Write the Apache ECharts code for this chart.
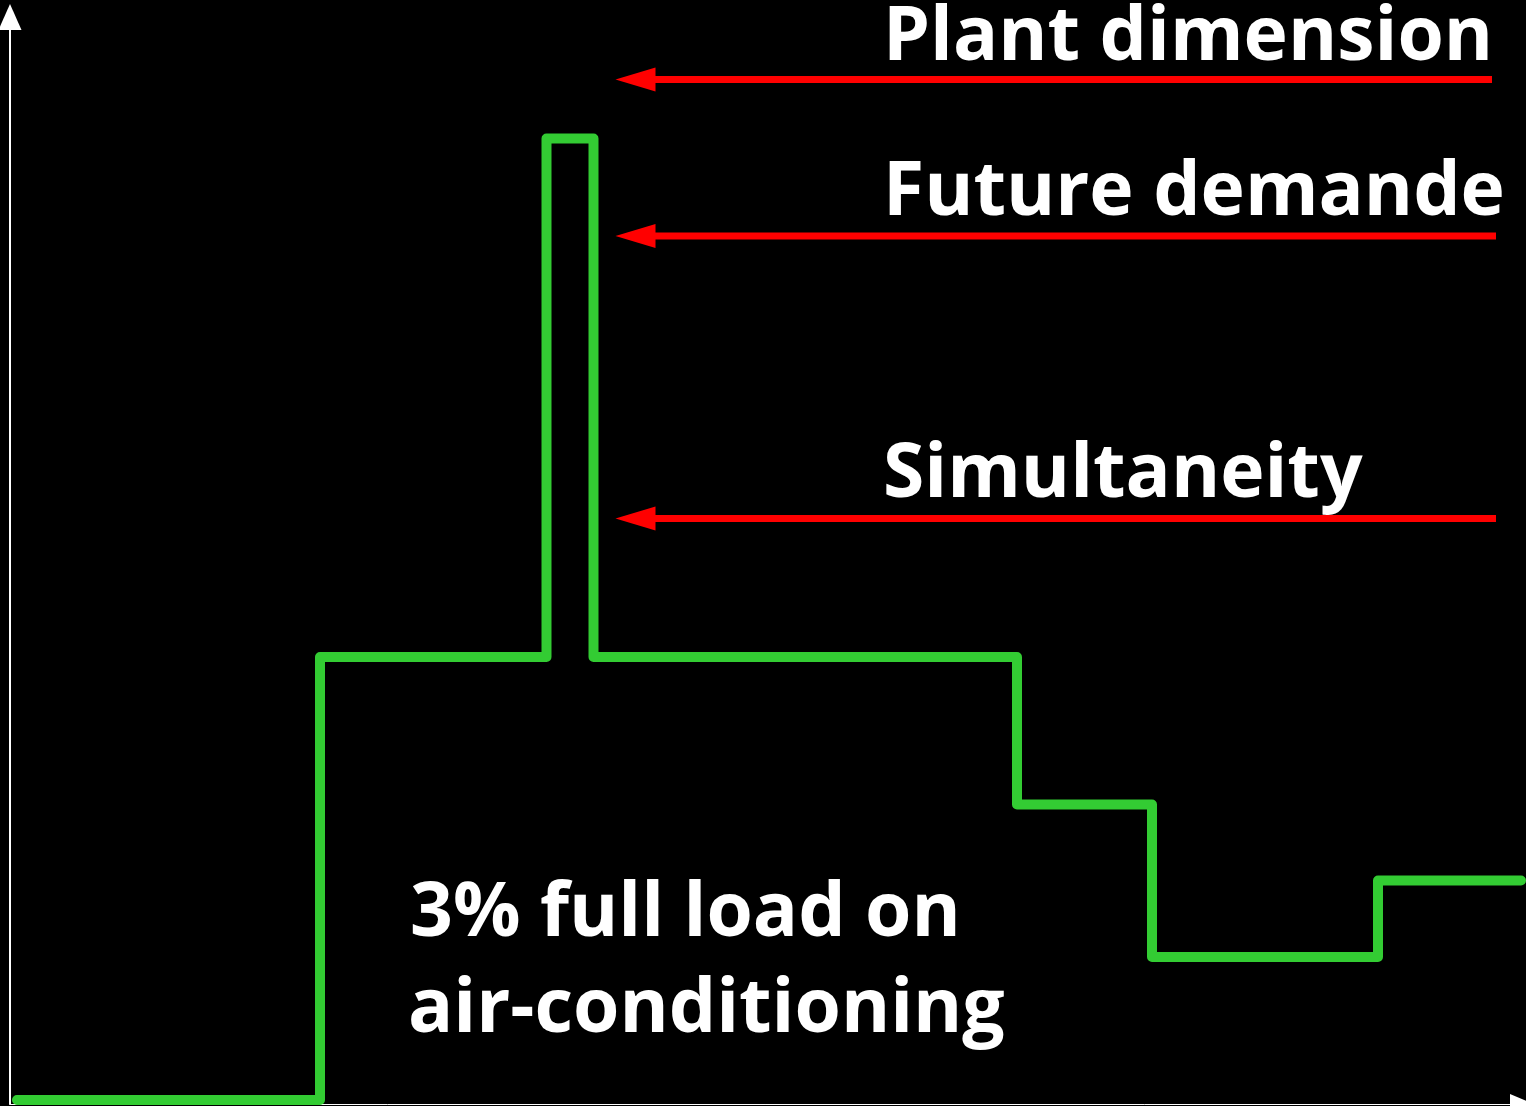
<!DOCTYPE html>
<html>
<head>
<meta charset="utf-8">
<title>Load profile</title>
<script src="https://cdn.jsdelivr.net/npm/echarts@6/dist/echarts.min.js"></script>
<style>
  html, body { margin: 0; padding: 0; background: #000; }
  #chart { width: 1526px; height: 1106px; }
</style>
</head>
<body>
<div id="chart"></div>
<script>
// load profile (x = time, y = load), corner points of the step line
const loadTime = [0.7, 31, 53.65, 58.35, 100.7, 114.2, 136.8, 151.1];
const loadValue = [0, 44.3, 96.15, 44.3, 29.55, 14.3, 21.95, 21.95];

// reference levels drawn as red arrows
const refNames = ["Plant dimension", "Future demande", "Simultaneity"];
const refLevels = [102.05, 86.4, 58.15];
const refStart = 62.55;
const refEnd = [148.2, 148.6, 148.6];

const noteLines = ["3% full load on", "air-conditioning"];

const chart = echarts.init(document.getElementById("chart"));

const labelFont = "bold 75px 'Open Sans'";

const refSeries = refLevels.map((lvl, i) => ({
  name: refNames[i],
  type: "line",
  silent: true,
  animation: false,
  data: [
    { value: [refStart, lvl], symbol: "triangle", symbolSize: [24, 40], symbolRotate: 90 },
    { value: [refEnd[i], lvl], symbol: "none" },
  ],
  itemStyle: { color: "#ff0000" },
  lineStyle: { color: "#ff0000", width: 7, cap: "butt" },
}));

const option = {
  backgroundColor: "#000",
  animation: false,
  grid: { left: 10, right: 4, top: 17, bottom: 2 },
  xAxis: {
    type: "value",
    min: 0,
    max: 151.2,
    axisLine: {
      onZero: false,
      symbol: ["none", "triangle"],
      symbolSize: [20, 24],
      lineStyle: { color: "#fff", width: 1 },
    },
    axisTick: { show: false },
    axisLabel: { show: false },
    splitLine: { show: false },
  },
  yAxis: {
    type: "value",
    min: -0.4,
    max: 108.3,
    axisLine: {
      show: true,
      onZero: false,
      symbol: ["none", "triangle"],
      symbolSize: [23, 26],
      lineStyle: { color: "#fff", width: 2 },
    },
    axisTick: { show: false },
    axisLabel: { show: false },
    splitLine: { show: false },
  },
  series: [
    {
      name: "Load",
      type: "line",
      step: "end",
      showSymbol: false,
      silent: true,
      data: loadTime.map((t, i) => [t, loadValue[i]]),
      lineStyle: { color: "#33cc33", width: 10, cap: "round", join: "round" },
      itemStyle: { color: "#33cc33" },
    },
    ...refSeries,
  ],
  graphic: [
    { type: "text", x: 883, y: 39, style: { text: refNames[0], font: labelFont, fill: "#fff", verticalAlign: "middle" } },
    { type: "text", x: 883, y: 194, style: { text: refNames[1], font: labelFont, fill: "#fff", verticalAlign: "middle" } },
    { type: "text", x: 883, y: 476, style: { text: refNames[2], font: labelFont, fill: "#fff", verticalAlign: "middle" } },
    { type: "text", x: 410, y: 915, style: { text: noteLines[0], font: labelFont, fill: "#fff", verticalAlign: "middle" } },
    { type: "text", x: 408, y: 1011, style: { text: noteLines[1], font: labelFont, fill: "#fff", verticalAlign: "middle" } },
  ],
};

chart.setOption(option);
</script>
</body>
</html>
